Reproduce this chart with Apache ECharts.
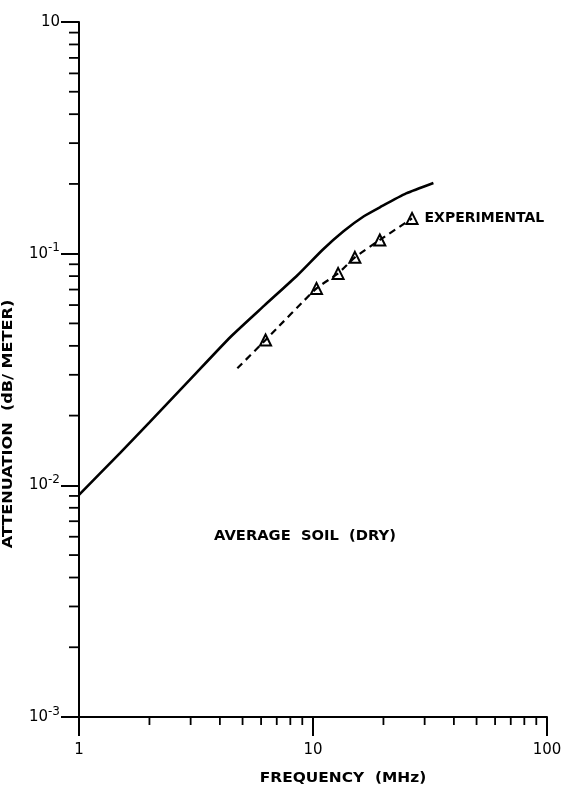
<!DOCTYPE html>
<html><head><meta charset="utf-8">
<script src="https://cdn.jsdelivr.net/npm/echarts@6/dist/echarts.min.js"></script>
<style>html,body{margin:0;padding:0;background:#fff}#c{width:569px;height:787px}</style>
</head><body><div id="c"></div>
<script>
// Theoretical curve (solid)
const theoryFreq  = [1, 1.5, 2, 3, 4.45, 6.17, 8.56, 11, 13.5, 16.5, 19.4, 25, 32.7];
const theoryAtten = [0.0091, 0.0138, 0.0187, 0.0288, 0.0438, 0.0595, 0.0805, 0.104, 0.125, 0.145, 0.159, 0.182, 0.202];
// Experimental points (triangles)
const expFreq  = [6.27, 10.35, 12.8, 15.1, 19.3, 26.5];
const expAtten = [0.0424, 0.0708, 0.0822, 0.0964, 0.1146, 0.142];
// Dashed experimental trend line
const expLineFreq  = [4.75, 6.27, 10.35, 12.8, 15.1, 19.3, 26.5];
const expLineAtten = [0.032, 0.0424, 0.0708, 0.0822, 0.0964, 0.1146, 0.142];
// Axis ticks
const xTickValues = [1, 10, 100];
const xTickLabels = ['1', '10', '100'];
const yTickValues = [0.001, 0.01, 0.1, 1];
const yTickLabels = ['10{s|-3}', '10{s|-2}', '10{s|-1}', '10'];
const minorMultipliers = [2, 3, 4, 5, 6, 7, 8, 9];

const FONT = 'DejaVu Sans';
const chart = echarts.init(document.getElementById('c'), null, {renderer: 'canvas'});

function zip(a, b) { return a.map((v, i) => [v, b[i]]); }
function findTick(arr, v) { return arr.findIndex(t => Math.abs(Math.log10(t) - Math.log10(v)) < 1e-6); }

// minor tick positions (2..9 per decade) drawn through the axis scales
const minorData = [];
for (let d = 0; d < 2; d++) minorMultipliers.forEach(m => minorData.push([m * Math.pow(10, d), yTickValues[0], 0]));
for (let d = -3; d < 0; d++) minorMultipliers.forEach(m => minorData.push([xTickValues[0], m * Math.pow(10, d), 1]));

const option = {
  backgroundColor: '#fff',
  animation: false,
  grid: {left: 79, right: 22, top: 22, bottom: 70},
  xAxis: {
    type: 'log', logBase: 10, min: 1, max: 100,
    axisLine: {lineStyle: {color: '#000', width: 2}},
    axisTick: {length: 19, lineStyle: {color: '#000', width: 2}},
    splitLine: {show: false},
    axisLabel: {
      color: '#000', fontFamily: FONT, fontSize: 15, margin: 26,
      formatter: v => { const i = findTick(xTickValues, v); return i >= 0 ? xTickLabels[i] : ''; }
    }
  },
  yAxis: {
    type: 'log', logBase: 10, min: 0.001, max: 1,
    axisLine: {lineStyle: {color: '#000', width: 2}},
    axisTick: {length: 18, lineStyle: {color: '#000', width: 2}},
    splitLine: {show: false},
    axisLabel: {
      color: '#000', fontFamily: FONT, fontSize: 15, margin: 19,
      formatter: v => { const i = findTick(yTickValues, v); return i >= 0 ? yTickLabels[i] : ''; },
      rich: {s: {fontFamily: FONT, fontSize: 12, color: '#000', padding: [0, 0, 11, 0]}}
    }
  },
  graphic: [
    {type: 'text', x: 8, y: 424, rotation: Math.PI / 2, scaleX: 1.15,
     style: {text: 'ATTENUATION  (dB/ METER)', font: 'bold 14px "DejaVu Sans"', fill: '#000', align: 'center', verticalAlign: 'middle'}},
    {type: 'text', x: 305, y: 536, scaleX: 1.05,
     style: {text: 'AVERAGE  SOIL  (DRY)', font: 'bold 14px "DejaVu Sans"', fill: '#000', align: 'center', verticalAlign: 'middle'}},
    {type: 'text', x: 343, y: 778, scaleX: 1.1,
     style: {text: 'FREQUENCY  (MHz)', font: 'bold 14px "DejaVu Sans"', fill: '#000', align: 'center', verticalAlign: 'middle'}}
  ],
  series: [
    {type: 'line', data: zip(theoryFreq, theoryAtten), showSymbol: false, smooth: 0.2,
     lineStyle: {color: '#000', width: 2.6}},
    {type: 'line', data: zip(expLineFreq, expLineAtten), showSymbol: false, smooth: 0.2,
     lineStyle: {color: '#000', width: 2.2, type: [7, 5]}},
    {type: 'scatter', data: zip(expFreq, expAtten), symbol: 'triangle', symbolSize: 11,
     itemStyle: {color: '#fff', borderColor: '#000', borderWidth: 2, opacity: 1},
     label: {show: true, position: 'right', distance: 6, color: '#000', fontFamily: FONT, fontWeight: 'bold', fontSize: 14,
       formatter: p => p.dataIndex === expFreq.length - 1 ? 'EXPERIMENTAL' : ''}},
    {type: 'custom', data: minorData, clip: false, silent: true,
     renderItem: (params, api) => {
       const p = api.coord([api.value(0), api.value(1)]);
       const kind = api.value(2);
       const shape = kind === 0 ? {x1: p[0], y1: p[1], x2: p[0], y2: p[1] + 8} : {x1: p[0], y1: p[1], x2: p[0] - 10, y2: p[1]};
       return {type: 'line', shape, style: {stroke: '#000', lineWidth: 1.8}};
     }}
  ]
};
chart.setOption(option);
</script></body></html>
